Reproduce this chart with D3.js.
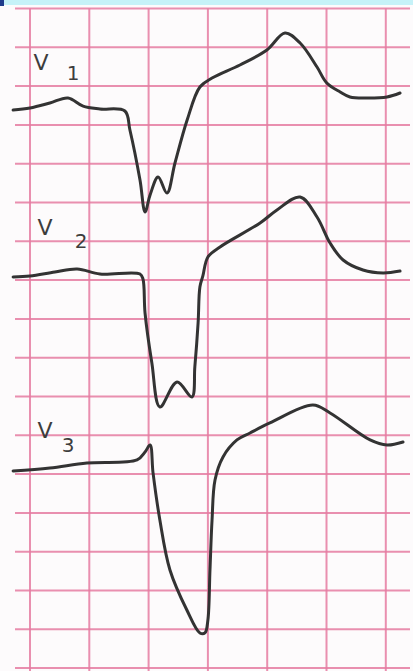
<!DOCTYPE html>
<html>
<head>
<meta charset="utf-8">
<script src="https://cdn.jsdelivr.net/npm/d3@7"></script>
<style>
  html, body { margin: 0; padding: 0; background: #fdfbfc; }
  svg { display: block; }
</style>
</head>
<body>
<svg id="chart" width="413" height="671"></svg>
<script>
// Precordial leads V1–V3, time in seconds, amplitude in mV relative to each lead's baseline.
const leads = ["V1", "V2", "V3"];
const leadDigits = ["1", "2", "3"];

// Baseline of each lead, in mV measured down from the top grid line
const leadBaselines = [1.308, 3.447, 5.921];

const v1Time = [-0.057, 0, 0.067, 0.128, 0.179, 0.236, 0.320, 0.337, 0.371, 0.388, 0.405, 0.432, 0.462, 0.489, 0.530, 0.573, 0.614, 0.708, 0.799, 0.860, 0.911, 0.968, 1.001, 1.046, 1.079, 1.137, 1.204, 1.248];
const v1Amp  = [0, 0.026, 0.090, 0.155, 0.050, 0.013, -0.013, -0.258, -0.902, -1.314, -1.095, -0.863, -1.070, -0.683, -0.129, 0.296, 0.412, 0.580, 0.773, 0.992, 0.863, 0.554, 0.348, 0.232, 0.168, 0.155, 0.168, 0.219];

const v2Time = [-0.057, 0, 0.084, 0.159, 0.236, 0.371, 0.381, 0.388, 0.411, 0.438, 0.496, 0.546, 0.556, 0.567, 0.573, 0.583, 0.600, 0.641, 0.776, 0.833, 0.911, 0.968, 1.012, 1.056, 1.123, 1.191, 1.248];
const v2Amp  = [-0.013, 0, 0.052, 0.090, 0.026, 0.026, -0.039, -0.477, -1.121, -1.688, -1.366, -1.559, -1.168, -0.600, -0.142, 0.000, 0.245, 0.374, 0.683, 0.851, 1.018, 0.760, 0.425, 0.206, 0.077, 0.039, 0.064];

const v3Time = [-0.057, 0.067, 0.192, 0.361, 0.388, 0.405, 0.415, 0.438, 0.472, 0.529, 0.573, 0.590, 0.600, 0.607, 0.614, 0.624, 0.651, 0.698, 0.742, 0.809, 0.954, 1.012, 1.147, 1.204, 1.258];
const v3Amp  = [-0.039, 0, 0.064, 0.103, 0.206, 0.296, -0.064, -0.670, -1.314, -1.830, -2.126, -2.126, -1.959, -1.314, -0.670, -0.155, 0.142, 0.361, 0.451, 0.580, 0.812, 0.709, 0.361, 0.296, 0.335];

// Large-box grid: 0.2 s columns, 0.5 mV rows
const gridTimes = [0, 0.2, 0.4, 0.6, 0.8, 1.0, 1.2];
const gridDepths = d3.range(0, 8.51, 0.5);

const svg = d3.select("#chart");
const W = 413, H = 671;

const x = d3.scaleLinear().domain([0, 1.2]).range([30, 385.8]);
const y = d3.scaleLinear().domain([0, 8.5]).range([8.5, 668.1]);

// paper
svg.append("rect").attr("width", W).attr("height", H).attr("fill", "#fdfbfc");

// top band
svg.append("rect").attr("x", 0).attr("y", 0).attr("width", W).attr("height", 5).attr("fill", "#c6f2f8");
svg.append("rect").attr("x", 0).attr("y", 0).attr("width", 4).attr("height", 6).attr("fill", "#1f3c8c");

const grid = svg.append("g").attr("stroke", "#e57ba1").attr("stroke-width", 2).attr("stroke-opacity", 0.85);

grid.selectAll("line.h").data(gridDepths).join("line")
  .attr("class", "h")
  .attr("x1", 15).attr("x2", 410)
  .attr("y1", d => y(d)).attr("y2", d => y(d));

grid.selectAll("line.v").data(gridTimes).join("line")
  .attr("class", "v")
  .attr("x1", d => x(d)).attr("x2", d => x(d))
  .attr("y1", y(0)).attr("y2", H);

// traces
const traces = [
  { t: v1Time, a: v1Amp, base: leadBaselines[0] },
  { t: v2Time, a: v2Amp, base: leadBaselines[1] },
  { t: v3Time, a: v3Amp, base: leadBaselines[2] }
];

const line = d3.line()
  .x(d => x(d[0]))
  .y(d => y(d[2] - d[1]))
  .curve(d3.curveCatmullRom.alpha(0.5));

svg.append("g").selectAll("path").data(traces).join("path")
  .attr("d", tr => line(tr.t.map((t, i) => [t, tr.a[i], tr.base])))
  .attr("fill", "none")
  .attr("stroke", "#333")
  .attr("stroke-width", 3)
  .attr("stroke-linejoin", "round")
  .attr("stroke-linecap", "round");

// lead labels
const labelPos = [
  { vx: 41, vy: 70, dx: 73, dy: 80 },
  { vx: 45, vy: 235, dx: 81, dy: 248 },
  { vx: 45, vy: 438, dx: 68, dy: 452 }
];

const labels = svg.append("g")
  .attr("font-family", "DejaVu Sans, sans-serif")
  .attr("fill", "#3d3d3d")
  .attr("text-anchor", "middle");

labels.selectAll("text.v").data(leads).join("text")
  .attr("class", "v")
  .attr("x", (d, i) => labelPos[i].vx)
  .attr("y", (d, i) => labelPos[i].vy)
  .attr("font-size", 22)
  .text(d => d.charAt(0));

labels.selectAll("text.d").data(leadDigits).join("text")
  .attr("class", "d")
  .attr("x", (d, i) => labelPos[i].dx)
  .attr("y", (d, i) => labelPos[i].dy)
  .attr("font-size", 20)
  .text(d => d);
</script>
</body>
</html>
